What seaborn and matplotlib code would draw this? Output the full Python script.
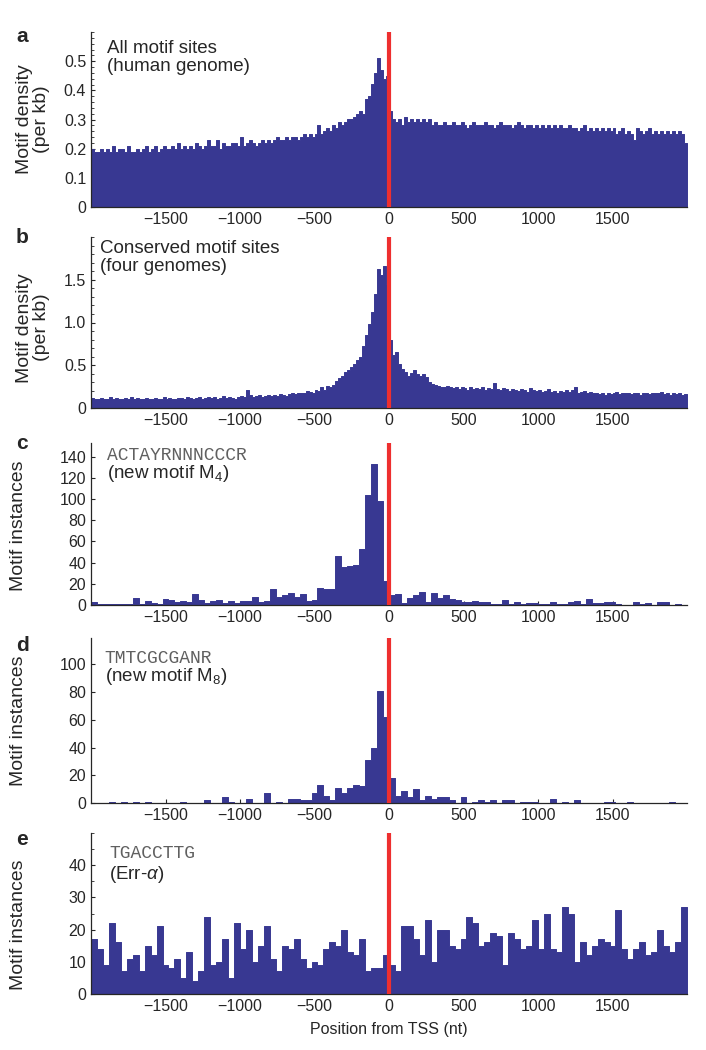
import numpy as np
import pandas as pd
import matplotlib
matplotlib.use("Agg")
import matplotlib.pyplot as plt
import seaborn as sns
from matplotlib.ticker import MultipleLocator

# ---- data ----
# panels a, b: 20 nt bins from -2000 to 2000 (200 bins)
all_sites = [
    0.20, 0.19, 0.19, 0.20, 0.19, 0.20, 0.19, 0.21, 0.19, 0.20,
    0.20, 0.19, 0.21, 0.19, 0.19, 0.20, 0.19, 0.20, 0.21, 0.19,
    0.20, 0.21, 0.19, 0.20, 0.21, 0.20, 0.20, 0.21, 0.20, 0.22,
    0.20, 0.21, 0.20, 0.21, 0.20, 0.22, 0.21, 0.20, 0.21, 0.23,
    0.21, 0.21, 0.23, 0.20, 0.22, 0.21, 0.21, 0.22, 0.22, 0.21,
    0.24, 0.21, 0.22, 0.23, 0.22, 0.21, 0.22, 0.23, 0.22, 0.23,
    0.22, 0.23, 0.24, 0.23, 0.23, 0.24, 0.23, 0.24, 0.24, 0.23,
    0.24, 0.25, 0.24, 0.25, 0.24, 0.25, 0.28, 0.25, 0.26, 0.27,
    0.26, 0.28, 0.27, 0.29, 0.28, 0.29, 0.30, 0.30, 0.31, 0.32,
    0.33, 0.32, 0.37, 0.38, 0.42, 0.46, 0.51, 0.47, 0.44, 0.45,
    0.33, 0.30, 0.29, 0.30, 0.28, 0.31, 0.29, 0.30, 0.29, 0.30,
    0.29, 0.30, 0.29, 0.30, 0.28, 0.29, 0.28, 0.28, 0.29, 0.28,
    0.28, 0.29, 0.28, 0.28, 0.29, 0.28, 0.27, 0.28, 0.29, 0.28,
    0.28, 0.28, 0.29, 0.28, 0.28, 0.27, 0.28, 0.29, 0.28, 0.28,
    0.28, 0.27, 0.28, 0.29, 0.28, 0.27, 0.28, 0.28, 0.27, 0.28,
    0.27, 0.28, 0.27, 0.28, 0.27, 0.28, 0.27, 0.28, 0.27, 0.27,
    0.28, 0.27, 0.27, 0.26, 0.27, 0.28, 0.26, 0.27, 0.26, 0.27,
    0.26, 0.27, 0.26, 0.27, 0.26, 0.27, 0.25, 0.26, 0.27, 0.25,
    0.26, 0.25, 0.23, 0.27, 0.26, 0.25, 0.26, 0.27, 0.25, 0.26,
    0.25, 0.26, 0.25, 0.26, 0.25, 0.26, 0.25, 0.26, 0.25, 0.22,
]
conserved_sites = [
    0.12, 0.10, 0.11, 0.12, 0.10, 0.11, 0.13, 0.10, 0.12, 0.11,
    0.10, 0.12, 0.11, 0.13, 0.10, 0.12, 0.11, 0.10, 0.12, 0.11,
    0.11, 0.12, 0.10, 0.11, 0.13, 0.11, 0.12, 0.10, 0.11, 0.12,
    0.12, 0.11, 0.13, 0.12, 0.11, 0.12, 0.13, 0.11, 0.12, 0.13,
    0.12, 0.13, 0.11, 0.12, 0.14, 0.12, 0.13, 0.12, 0.11, 0.13,
    0.14, 0.13, 0.21, 0.15, 0.13, 0.14, 0.15, 0.13, 0.14, 0.15,
    0.14, 0.15, 0.14, 0.16, 0.15, 0.14, 0.16, 0.18, 0.16, 0.17,
    0.18, 0.17, 0.20, 0.19, 0.18, 0.21, 0.20, 0.24, 0.21, 0.26,
    0.25, 0.27, 0.32, 0.35, 0.38, 0.42, 0.45, 0.48, 0.52, 0.56,
    0.60, 0.72, 0.85, 0.98, 1.12, 1.33, 1.63, 1.55, 1.66, 1.45,
    0.80, 0.62, 0.66, 0.52, 0.46, 0.42, 0.38, 0.41, 0.44, 0.40,
    0.38, 0.40, 0.36, 0.30, 0.28, 0.27, 0.26, 0.25, 0.24, 0.26,
    0.24, 0.23, 0.25, 0.22, 0.24, 0.23, 0.21, 0.24, 0.22, 0.23,
    0.22, 0.24, 0.21, 0.23, 0.22, 0.29, 0.22, 0.21, 0.23, 0.22,
    0.20, 0.22, 0.21, 0.20, 0.22, 0.21, 0.19, 0.23, 0.21, 0.20,
    0.21, 0.19, 0.20, 0.22, 0.19, 0.20, 0.18, 0.20, 0.19, 0.21,
    0.19, 0.21, 0.24, 0.18, 0.19, 0.20, 0.17, 0.19, 0.18, 0.17,
    0.16, 0.17, 0.15, 0.18, 0.16, 0.17, 0.19, 0.16, 0.17, 0.18,
    0.17, 0.16, 0.18, 0.17, 0.15, 0.17, 0.18, 0.16, 0.17, 0.18,
    0.17, 0.19, 0.16, 0.17, 0.15, 0.17, 0.16, 0.18, 0.15, 0.16,
]
# panels c, d, e: 40 nt bins from -2000 to 2000 (100 bins)
m4_counts = [
    3, 1, 1, 1, 1, 1, 1, 7, 1, 4,
    2, 1, 6, 5, 3, 4, 3, 10, 5, 2,
    4, 5, 2, 4, 2, 4, 4, 8, 3, 4,
    15, 8, 9, 11, 8, 10, 4, 5, 16, 15,
    15, 46, 36, 37, 38, 53, 104, 133, 98, 23,
    9, 10, 2, 7, 9, 12, 3, 11, 7, 9,
    6, 5, 3, 3, 4, 3, 3, 1, 1, 5,
    1, 3, 1, 2, 2, 1, 1, 3, 1, 1,
    3, 4, 1, 6, 2, 2, 3, 3, 1, 0,
    0, 3, 1, 2, 0, 3, 3, 0, 1, 0,
]
m8_counts = [
    0, 0, 0, 1, 0, 1, 0, 1, 0, 1,
    0, 0, 0, 0, 0, 1, 0, 0, 0, 2,
    0, 0, 4, 1, 0, 0, 3, 0, 0, 7,
    0, 1, 0, 3, 3, 2, 2, 7, 13, 5,
    2, 11, 7, 11, 13, 12, 31, 40, 81, 62,
    18, 5, 9, 4, 10, 2, 5, 3, 4, 4,
    2, 0, 4, 0, 1, 2, 1, 2, 0, 2,
    2, 0, 1, 1, 1, 0, 0, 3, 0, 1,
    0, 2, 0, 0, 0, 0, 1, 1, 0, 0,
    1, 0, 0, 0, 0, 0, 0, 1, 0, 0,
]
err_counts = [
    17, 14, 9, 22, 16, 7, 11, 12, 7, 15,
    12, 21, 9, 8, 11, 5, 13, 4, 7, 24,
    9, 10, 17, 5, 22, 14, 20, 10, 15, 21,
    11, 7, 15, 14, 17, 11, 8, 10, 9, 14,
    16, 15, 20, 13, 12, 17, 7, 8, 8, 12,
    9, 7, 21, 21, 17, 12, 23, 10, 20, 20,
    15, 14, 17, 24, 22, 15, 16, 19, 18, 9,
    19, 17, 14, 15, 23, 14, 25, 14, 13, 27,
    25, 10, 16, 12, 15, 17, 16, 15, 26, 14,
    11, 14, 16, 12, 13, 20, 15, 13, 16, 27,
]

panel_letters = ["a", "b", "c", "d", "e"]
seq_labels = [None, None, "ACTAYRNNNCCCR", "TMTCGCGANR", "TGACCTTG"]

BAR = "#383892"
RED = "#ee2f2f"

sns.set_style("ticks")
plt.rcParams["font.family"] = ["Liberation Sans", "DejaVu Sans"]
plt.rcParams["mathtext.fontset"] = "custom"
plt.rcParams["mathtext.rm"] = "Liberation Sans"
plt.rcParams["mathtext.it"] = "Liberation Sans:italic"

fig = plt.figure(figsize=(7.06, 10.5), dpi=100)

# axes rectangles in pixels: top, bottom
rects = [(32, 207), (237, 408), (443, 605), (638, 803), (833, 994)]
axes = []
for top, bot in rects:
    axes.append(fig.add_axes([91 / 706, 1 - bot / 1050, 596 / 706, (bot - top) / 1050]))


def draw(ax, values, width):
    edges = np.arange(-2000, 2000 + width, width)
    df = pd.DataFrame({"pos": edges[:-1] + width / 2, "val": values})
    sns.histplot(data=df, x="pos", weights="val", bins=list(edges), element="step", fill=True,
                 color=BAR, alpha=1, linewidth=0.7, ax=ax)
    ax.axvline(0, color=RED, lw=3.0, zorder=5)
    ax.set_xlim(-2000, 2000)
    ax.set_xticks([-1500, -1000, -500, 0, 500, 1000, 1500])
    ax.set_xlabel("")
    sns.despine(ax=ax)
    ax.tick_params(direction="in", labelsize=11.5, length=3, width=0.8)
    ax.tick_params(which="minor", direction="in", length=2, width=0.6)
    for s in ["left", "bottom"]:
        ax.spines[s].set_linewidth(0.9)


draw(axes[0], all_sites, 20)
draw(axes[1], conserved_sites, 20)
draw(axes[2], m4_counts, 40)
draw(axes[3], m8_counts, 40)
draw(axes[4], err_counts, 40)

# y axes
axes[0].set_ylim(0, 0.6)
axes[0].set_yticks([0, 0.1, 0.2, 0.3, 0.4, 0.5])
axes[0].set_yticklabels(["0", "0.1", "0.2", "0.3", "0.4", "0.5"])
axes[0].yaxis.set_minor_locator(MultipleLocator(0.02))

axes[1].set_ylim(0, 2.0)
axes[1].set_yticks([0, 0.5, 1.0, 1.5])
axes[1].set_yticklabels(["0", "0.5", "1.0", "1.5"])
axes[1].yaxis.set_minor_locator(MultipleLocator(0.1))

axes[2].set_ylim(0, 153)
axes[2].set_yticks(range(0, 141, 20))

axes[3].set_ylim(0, 119)
axes[3].set_yticks(range(0, 101, 20))

axes[4].set_ylim(0, 50)
axes[4].set_yticks(range(0, 41, 10))
axes[4].yaxis.set_minor_locator(MultipleLocator(5))

label_y = [0.5, 0.47, 0.49, 0.5, 0.43]
for i, ax in enumerate(axes):
    if i < 2:
        ax.set_ylabel("Motif density\n(per kb)", fontsize=14, linespacing=1.05)
        ax.yaxis.set_label_coords(-0.068, label_y[i])
    else:
        ax.set_ylabel("Motif instances", fontsize=14)
        ax.yaxis.set_label_coords(-0.107, label_y[i])

axes[4].set_xlabel("Position from TSS (nt)", fontsize=11.5, labelpad=6)

# panel annotations
axes[0].text(0.027, 0.955, "All motif sites\n(human genome)", transform=axes[0].transAxes,
             va="top", ha="left", fontsize=13.5, linespacing=1.1)
axes[1].text(0.015, 0.985, "Conserved motif sites\n(four genomes)", transform=axes[1].transAxes,
             va="top", ha="left", fontsize=13.5, linespacing=1.1)

subs = [None, None, "(new motif M$_{4}$)", "(new motif M$_{8}$)", r"(Err-$\alpha$)"]
seq_y = [None, None, 0.975, 0.93, 0.925]
sub_y = [None, None, 0.875, 0.83, 0.81]
seq_x = [None, None, 0.027, 0.023, 0.030]
for i in range(2, 5):
    ax = axes[i]
    ax.text(seq_x[i], seq_y[i], seq_labels[i], transform=ax.transAxes, va="top", ha="left",
            fontsize=13, family="Liberation Mono", color="#606060")
    ax.text(seq_x[i], sub_y[i], subs[i], transform=ax.transAxes, va="top", ha="left",
            fontsize=13.5)

letter_y = [27, 228, 434, 636, 830]
for lt, y in zip(panel_letters, letter_y):
    fig.text(16 / 706, 1 - y / 1050, lt, fontsize=15, fontweight="bold", va="top", ha="left")

fig.savefig("out.png", dpi=100)
